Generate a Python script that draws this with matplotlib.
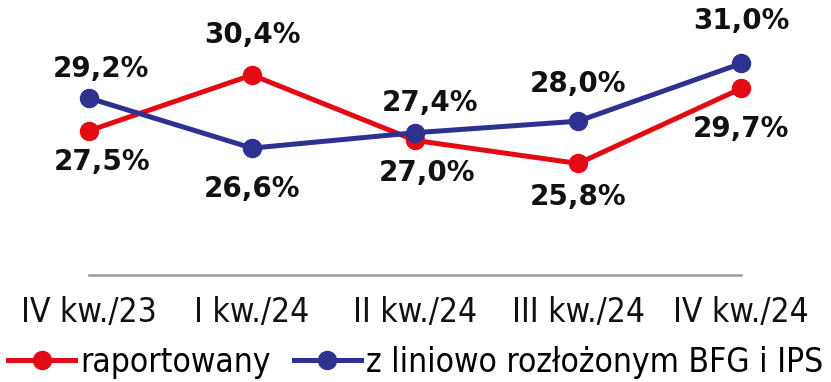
import matplotlib

matplotlib.use("Agg")
import matplotlib.pyplot as plt
from matplotlib.font_manager import FontProperties

QUARTERS = ["IV kw./23", "I kw./24", "II kw./24", "III kw./24", "IV kw./24"]
REPORTED = [27.5, 30.4, 27.0, 25.8, 29.7]
LINEAR_BFG = [29.2, 26.6, 27.4, 28.0, 31.0]
SERIES_NAMES = ["raportowany", "z liniowo rozłożonym BFG i IPS"]

RED = "#e30a14"
BLUE = "#2e3190"

# label offsets in pixels (dx, dy) for each point
RED_OFFSETS = [(13, -31), (0, 40), (12, -33), (0, -34), (0, -41)]
BLUE_OFFSETS = [(12, 29), (0, -41), (15, 30), (0, 37), (0, 42)]


def fmt(v):
    return f"{v:.1f}%".replace(".", ",")


def main():
    tick_font = FontProperties(family="DejaVu Sans", stretch="condensed", size=24)
    fig = plt.figure(figsize=(8.31, 3.82), dpi=100)
    ax = fig.add_axes([0.107, 0.280, 0.785, 0.720])
    xs = range(len(QUARTERS))

    for values, color, offsets, name in [
        (REPORTED, RED, RED_OFFSETS, SERIES_NAMES[0]),
        (LINEAR_BFG, BLUE, BLUE_OFFSETS, SERIES_NAMES[1]),
    ]:
        ax.plot(xs, values, color=color, linewidth=3.6, marker="o",
                markersize=13, clip_on=False, label=name, zorder=3)
        for x, v, (dx, dy) in zip(xs, values, offsets):
            ax.annotate(fmt(v), xy=(x, v), xytext=(dx, dy),
                        textcoords="offset pixels", ha="center", va="center",
                        fontsize=20, fontweight="bold", family="DejaVu Sans",
                        color="#111111")

    ax.set_xlim(0, 4)
    ax.set_ylim(20, 34.3)
    ax.set_yticks([])
    ax.set_xticks(list(xs))
    ax.set_xticklabels(QUARTERS, fontproperties=tick_font, color="#111111")
    ax.tick_params(axis="x", length=0, pad=15)
    for side in ["top", "right", "left"]:
        ax.spines[side].set_visible(False)
    ax.spines["bottom"].set_color("#9a9a9a")
    ax.spines["bottom"].set_linewidth(1.8)

    fig.legend(loc="lower center", bbox_to_anchor=(0.5, -0.07), ncol=2,
               frameon=False, handlelength=2.0, handletextpad=0.15,
               columnspacing=0.7, prop=tick_font)

    fig.savefig("out.png", dpi=100, facecolor="white")
    plt.close(fig)


if __name__ == "__main__":
    main()
